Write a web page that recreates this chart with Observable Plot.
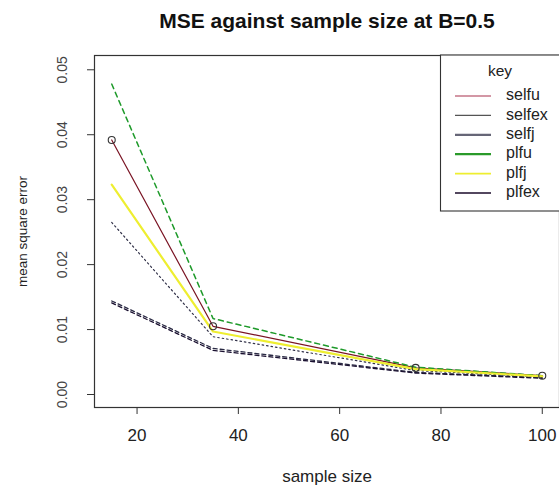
<!DOCTYPE html>
<html><head><meta charset="utf-8">
<script src="https://cdn.jsdelivr.net/npm/d3@7"></script>
<script src="https://cdn.jsdelivr.net/npm/@observablehq/plot@0.6"></script>
<style>
body{margin:0;background:#fff}
#wrap{position:relative;width:559px;height:486px;overflow:hidden;font-family:"Liberation Sans",Arial,sans-serif}
</style></head><body><div id="wrap"></div>
<script>
const sampleSizes = [15, 35, 75, 100];
const selfu  = [0.0392, 0.0105, 0.0041, 0.0029];
const selfex = [0.0265, 0.0089, 0.0037, 0.0027];
const selfj  = [0.0144, 0.0071, 0.0034, 0.0026];
const plfu   = [0.0478, 0.0117, 0.0042, 0.0029];
const plfj   = [0.0323, 0.0097, 0.0039, 0.0028];
const plfex  = [0.0141, 0.0068, 0.0033, 0.0025];
const seriesNames = ["selfu", "selfex", "selfj", "plfu", "plfj", "plfex"];
const seriesValues = [selfu, selfex, selfj, plfu, plfj, plfex];
const xTicks = [20, 40, 60, 80, 100];
const yTicks = [0, 0.01, 0.02, 0.03, 0.04, 0.05];
const title = "MSE against sample size at B=0.5";

const styles = {
  selfu:  {stroke: "#7a1424", strokeWidth: 1.2, dash: null, legendStroke: "#a8304c", legendWidth: 1.2},
  selfex: {stroke: "#33334a", strokeWidth: 1.2, dash: "1.5,3", legendStroke: "#555", legendWidth: 1.2},
  selfj:  {stroke: "#2a2a44", strokeWidth: 1.3, dash: "4,3", legendStroke: "#666677", legendWidth: 2.2},
  plfu:   {stroke: "#1e9a2a", strokeWidth: 1.5, dash: "5,4", legendStroke: "#2a9a2a", legendWidth: 2.2},
  plfj:   {stroke: "#eeee30", strokeWidth: 2.2, dash: null, legendStroke: "#eeee30", legendWidth: 1.6},
  plfex:  {stroke: "#1a1030", strokeWidth: 1.3, dash: "4,3", legendStroke: "#1a0a2a", legendWidth: 1.4}
};

const rows = [];
seriesNames.forEach((s, i) => sampleSizes.forEach((n, j) => rows.push({series: s, n, mse: seriesValues[i][j]})));

const lineMarks = seriesNames.map(s => Plot.line(rows.filter(d => d.series === s), {
  x: "n", y: "mse", stroke: styles[s].stroke, strokeWidth: styles[s].strokeWidth,
  strokeDasharray: styles[s].dash
}));

const chart = Plot.plot({
  width: 559, height: 486,
  marginLeft: 94, marginRight: 0, marginTop: 55, marginBottom: 79,
  style: {fontFamily: '"Liberation Sans", Arial, sans-serif', background: "#fff"},
  x: {domain: [11.6, 103.4], label: null},
  y: {domain: [-0.002, 0.0522], label: null},
  marks: [
    Plot.frame({stroke: "#333", strokeWidth: 1.2}),
    Plot.axisX({ticks: xTicks, tickSize: 7, tickPadding: 14, fontSize: 17, fill: "#222", label: null, stroke: "#333"}),
    Plot.axisY({ticks: yTicks, tickSize: 7, tickFormat: () => "", label: null, stroke: "#333"}),
    Plot.text(yTicks, {y: d => d, text: d => d.toFixed(2), frameAnchor: "left", textAnchor: "middle", dx: -32, rotate: -90, fontSize: 14, fill: "#444"}),
    ...lineMarks,
    Plot.dot(rows.filter(d => d.series === "selfu"), {x: "n", y: "mse", r: 3.5, stroke: "#333", strokeWidth: 1.1, fill: "none"}),
    Plot.text([title], {frameAnchor: "top", dy: -42, fontSize: 21, fontWeight: "bold", fill: "#111"}),
    Plot.text(["sample size"], {frameAnchor: "bottom", dy: 74, fontSize: 17, fill: "#222"}),
    Plot.text(["mean square error"], {frameAnchor: "left", textAnchor: "middle", dx: -72, rotate: -90, fontSize: 13.5, fill: "#222"})
  ]
});
document.getElementById("wrap").appendChild(chart);

// legend
const svg = d3.select(chart);
const lg = svg.append("g").attr("font-family", '"Liberation Sans", Arial, sans-serif');
lg.append("rect").attr("x", 440.5).attr("y", 55).attr("width", 130).attr("height", 156)
  .attr("fill", "#fff").attr("stroke", "#333").attr("stroke-width", 1.1);
lg.append("text").attr("x", 500).attr("y", 72).attr("text-anchor", "middle")
  .attr("dominant-baseline", "middle").attr("font-size", 15.5).attr("fill", "#222").text("key");
seriesNames.forEach((s, i) => {
  const y = 96 + i * 19.4;
  lg.append("line").attr("x1", 455).attr("x2", 491).attr("y1", y).attr("y2", y)
    .attr("stroke", styles[s].legendStroke).attr("stroke-width", styles[s].legendWidth);
  lg.append("text").attr("x", 506).attr("y", y).attr("text-anchor", "start").attr("dominant-baseline", "middle")
    .attr("font-size", 16).attr("fill", "#222").text(s);
});
</script>
</body></html>
